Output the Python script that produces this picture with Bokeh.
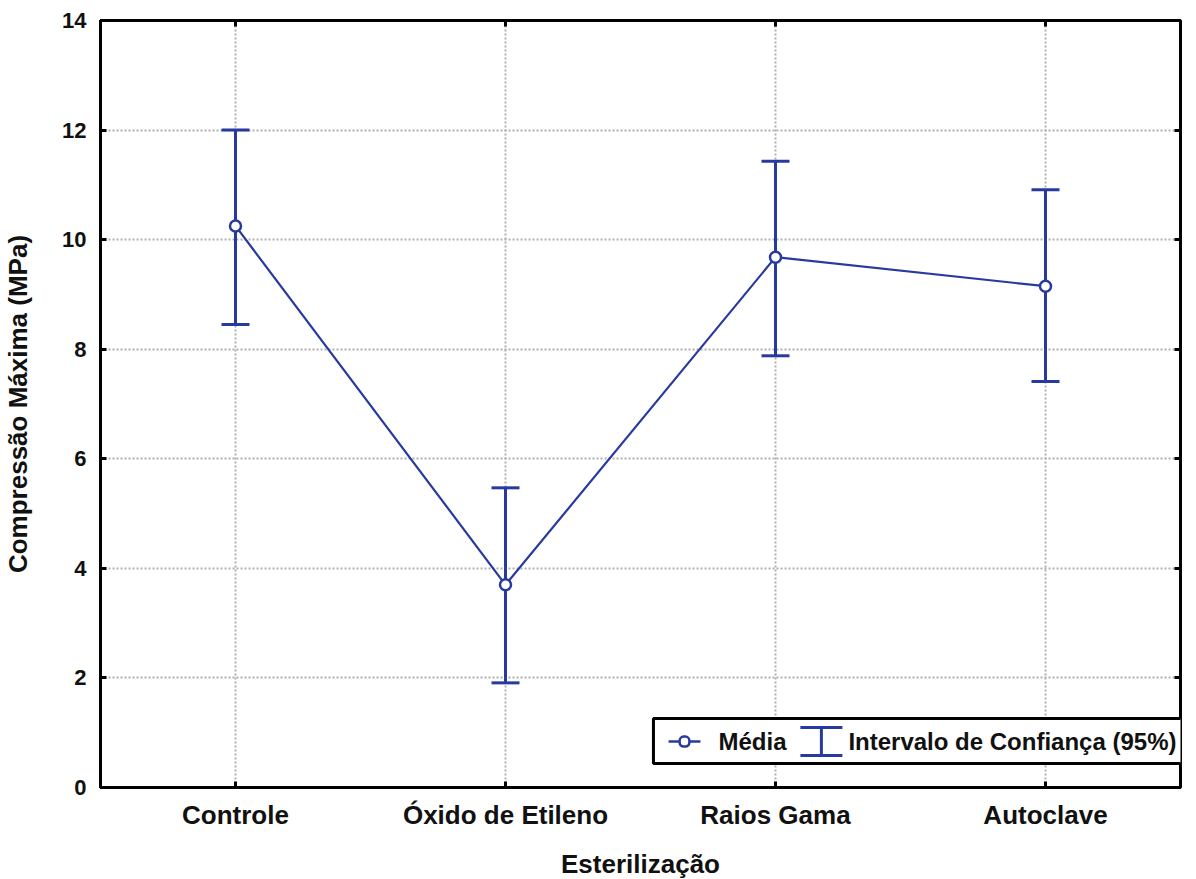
from bokeh.plotting import figure
from bokeh.models import (Range1d, FixedTicker, LinearAxis, BoxAnnotation, Label,
                          Arrow, TeeHead, ColumnDataSource)
from bokeh.embed import file_html
from bokeh.resources import INLINE

categories = ["Controle", "Óxido de Etileno", "Raios Gama", "Autoclave"]
means = [10.25, 3.70, 9.68, 9.15]
upper = [12.0, 5.47, 11.43, 10.91]
lower = [8.45, 1.91, 7.88, 7.41]
y_ticks = [0, 2, 4, 6, 8, 10, 12, 14]

BLUE = "#283a9e"
FONT = "Liberation Sans"

xs = list(range(len(categories)))
src = ColumnDataSource(dict(x=xs, mean=means, up=upper, lo=lower))

p = figure(frame_width=1080, frame_height=767, output_backend="svg",
           toolbar_location=None, x_range=Range1d(-0.5, len(categories) - 0.5),
           y_range=Range1d(0, 14), min_border_left=100, min_border_top=20,
           min_border_right=6, min_border_bottom=10)
p.background_fill_color = "white"
p.border_fill_color = "white"
p.outline_line_color = "black"
p.outline_line_width = 3

# axes
p.xaxis.ticker = FixedTicker(ticks=xs)
p.xaxis.major_label_overrides = {i: c for i, c in enumerate(categories)}
p.yaxis.ticker = FixedTicker(ticks=y_ticks)
for ax in (p.xaxis[0], p.yaxis[0]):
    ax.axis_line_color = "black"
    ax.axis_line_width = 3
    ax.major_tick_in = 6
    ax.major_tick_out = 0
    ax.major_tick_line_width = 3
    ax.minor_tick_line_color = None
    ax.major_label_text_font = FONT
    ax.major_label_text_font_style = "bold"
    ax.major_label_text_color = "#111111"
    ax.axis_label_text_font = FONT
    ax.axis_label_text_font_style = "bold"
    ax.axis_label_text_color = "#111111"

p.xaxis.major_label_text_font_size = "26px"
p.xaxis.major_label_standoff = 12
p.xaxis.axis_label = "Esterilização"
p.xaxis.axis_label_text_font_size = "26px"
p.xaxis.axis_label_standoff = 16

p.yaxis.major_label_text_font_size = "22px"
p.yaxis.major_label_standoff = 14
p.yaxis.axis_label = "Compressão Máxima (MPa)"
p.yaxis.axis_label_text_font_size = "26px"
p.yaxis.axis_label_standoff = 26

# right and top axes with ticks only
blank_y = {t: "" for t in y_ticks}
blank_x = {t: "" for t in xs}
right = LinearAxis(ticker=FixedTicker(ticks=y_ticks), major_label_overrides=blank_y,
                   major_label_standoff=0, major_tick_in=6, major_tick_out=0,
                   major_tick_line_width=3, minor_tick_line_color=None,
                   axis_line_width=3)
top = LinearAxis(ticker=FixedTicker(ticks=xs), major_label_overrides=blank_x,
                 major_label_standoff=0, major_tick_in=6, major_tick_out=0,
                 major_tick_line_width=3, minor_tick_line_color=None,
                 axis_line_width=3)
p.add_layout(right, "right")
p.add_layout(top, "above")

# grid
for g in (p.xgrid[0], p.ygrid[0]):
    g.grid_line_color = "#b0b0b0"
    g.grid_line_dash = "2 2"
    g.grid_line_width = 2
p.xgrid.ticker = FixedTicker(ticks=xs)
p.ygrid.ticker = FixedTicker(ticks=y_ticks)

# error bars
cap = 14 / 270.0
src.data["x0"] = [x - cap for x in xs]
src.data["x1"] = [x + cap for x in xs]
p.segment(x0="x", y0="lo", x1="x", y1="up", source=src, line_color=BLUE, line_width=3)
p.segment(x0="x0", y0="up", x1="x1", y1="up", source=src, line_color=BLUE, line_width=3)
p.segment(x0="x0", y0="lo", x1="x1", y1="lo", source=src, line_color=BLUE, line_width=3)

# mean line
p.line(x="x", y="mean", source=src, line_color=BLUE, line_width=2.2)
p.scatter(x="x", y="mean", source=src, marker="circle", size=11,
          fill_color="white", line_color=BLUE, line_width=2.5)

# legend (manual)
box = BoxAnnotation(left=1.548, right=3.544, bottom=0.438, top=1.259,
                    fill_color="white", fill_alpha=1, line_color="black",
                    line_width=3, line_alpha=1)
p.add_layout(box)
p.add_layout(Arrow(x_start=1.604, y_start=0.839, x_end=1.722, y_end=0.839,
                   start=None, end=None, line_color=BLUE, line_width=2.5))
p.add_layout(BoxAnnotation(left=1.663 - 0.018, right=1.663 + 0.018,
                           bottom=0.839 - 0.09, top=0.839 + 0.09,
                           fill_color="white", fill_alpha=1, line_color=BLUE,
                           line_alpha=1, line_width=2.5, border_radius=4))
p.add_layout(Arrow(x_start=2.170, y_start=0.584, x_end=2.170, y_end=1.095,
                   start=TeeHead(size=42, line_color=BLUE, line_width=3),
                   end=TeeHead(size=42, line_color=BLUE, line_width=3),
                   line_color=BLUE, line_width=3))
p.add_layout(Label(x=1.789, y=0.839, text="Média", text_font=FONT,
                   text_font_style="bold", text_font_size="24px",
                   text_baseline="middle", text_color="#111111"))
p.add_layout(Label(x=2.270, y=0.839, text="Intervalo de Confiança (95%)",
                   text_font=FONT, text_font_style="bold", text_font_size="24px",
                   text_baseline="middle", text_color="#111111"))

open("out.html", "w").write(file_html(p, INLINE))
